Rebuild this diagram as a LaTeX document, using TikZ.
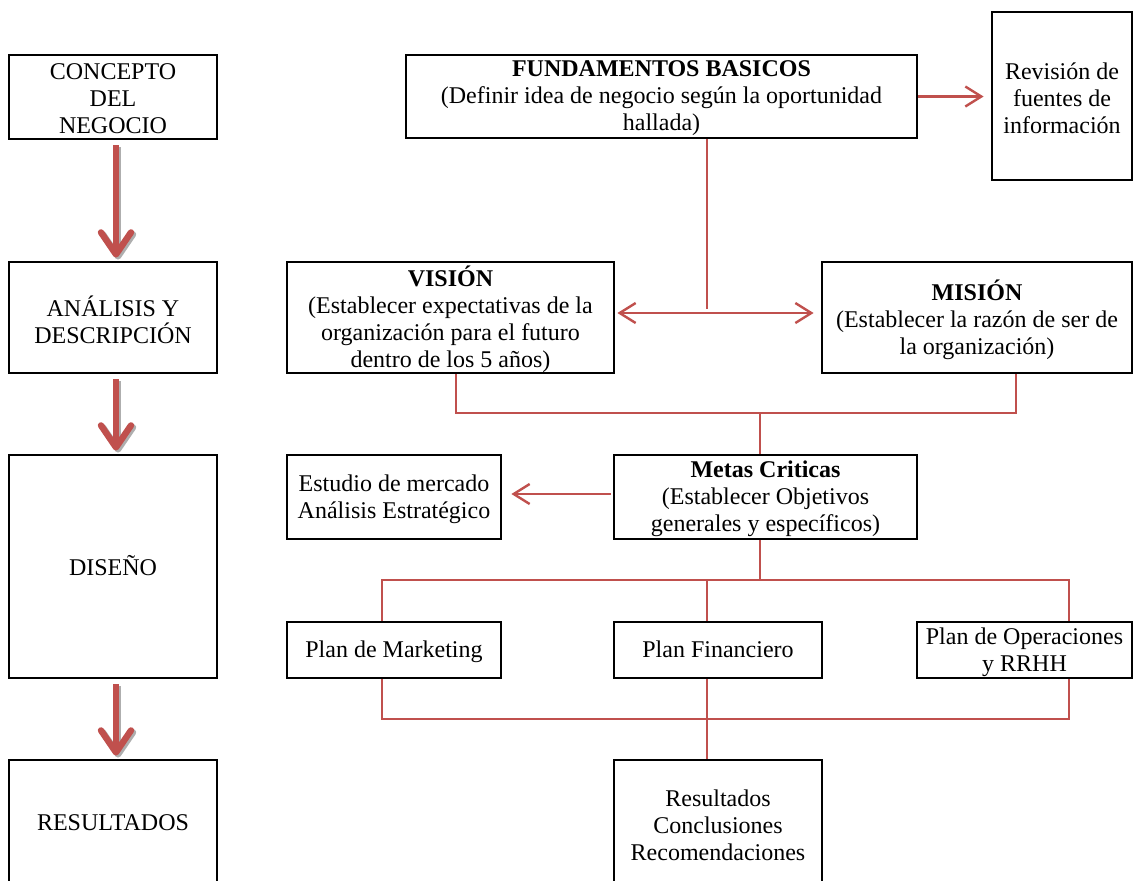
\documentclass[tikz,border=0pt]{standalone}
\usepackage{fontspec}
\setmainfont{Liberation Serif}
\usetikzlibrary{arrows.meta,fit,calc}
\definecolor{linkred}{HTML}{C0504D}
\definecolor{shade}{HTML}{9A9A9A}
\begin{document}
\begin{tikzpicture}[x=0.5pt,y=-0.5pt,
  box/.style={draw=black,line width=1.4pt,inner sep=0pt},
  txt/.style={inner sep=0pt,align=center,yshift=-1pt,font=\fontsize{12}{13.5}\selectfont},
  oneline/.style={txt,text depth=2.6pt},
  link/.style={draw=linkred,line width=1.2pt},
  linkarrow/.style={link,-{Straight Barb[length=8pt,width=10pt,line width=1.2pt]}},
  bothways/.style={link,{Straight Barb[length=8pt,width=10pt,line width=1.2pt]}-{Straight Barb[length=8pt,width=10pt,line width=1.2pt]}},
  bigarrow/.style={draw=linkred,line width=3.2pt,line join=round,
    -{Straight Barb[length=11pt,width=15pt,line width=3.2pt,round]}},
  bigshadow/.style={draw=shade,line width=3.2pt,line join=round,opacity=0.8,
    -{Straight Barb[length=11pt,width=15pt,line width=3.2pt,round]}}]
\useasboundingbox (0,0) rectangle (1135,880);

% left column: stages
\node[box,fit={(9,55)(217,139)}] (concept) {};
\node[box,fit={(9,262)(217,373)}] (analisis) {};
\node[box,fit={(9,455)(217,678)}] (diseno) {};
\node[box,fit={(9,760)(217,886)}] (resultados) {};
\node[txt] (concept-t) at (concept) {CONCEPTO\\DEL\\NEGOCIO};
\node[txt] (analisis-t) at (analisis) {ANÁLISIS Y\\DESCRIPCIÓN};
\node[oneline] (diseno-t) at (diseno) {DISEÑO};
\node[oneline] (resultados-t) at (resultados) {RESULTADOS};

% right side: content of each stage
\node[box,fit={(406,55)(917,138)}] (fund) {};
\node[box,fit={(992,12)(1132,180)}] (revision) {};
\node[box,fit={(287,262)(614,373)}] (vision) {};
\node[box,fit={(822,262)(1132,373)}] (mision) {};
\node[box,fit={(287,455)(501,539)}] (estudio) {};
\node[box,fit={(614,455)(917,539)}] (metas) {};
\node[box,fit={(287,622)(501,678)}] (mkt) {};
\node[box,fit={(614,622)(822,678)}] (fin) {};
\node[box,fit={(917,622)(1132,678)}] (ops) {};
\node[box,fit={(614,760)(822,886)}] (rcr) {};

\node[txt] (fund-t) at (fund) {\textbf{FUNDAMENTOS BASICOS}\\(Definir idea de negocio según la oportunidad\\hallada)};
\node[txt] (revision-t) at (revision) {Revisión de\\fuentes de\\información};
\node[txt] (vision-t) at (vision) {\textbf{VISIÓN}\\(Establecer expectativas de la\\organización para el futuro\\dentro de los 5 años)};
\node[txt] (mision-t) at (mision) {\textbf{MISIÓN}\\(Establecer la razón de ser de\\la organización)};
\node[txt] (estudio-t) at (estudio) {Estudio de mercado\\Análisis Estratégico};
\node[txt] (metas-t) at (metas) {\textbf{Metas Criticas}\\(Establecer Objetivos\\generales y específicos)};
\node[oneline] (mkt-t) at (mkt) {Plan de Marketing};
\node[oneline] (fin-t) at (fin) {Plan Financiero};
\node[txt] (ops-t) at (ops) {Plan de Operaciones\\y RRHH};
\node[txt] (rcr-t) at (rcr) {Resultados\\Conclusiones\\Recomendaciones};

% stage arrows with drop shadow
\foreach \a/\b in {concept/analisis,analisis/diseno,diseno/resultados}{
  \draw[bigshadow] ([xshift=2.5pt,yshift=-3.5pt]\a.south) -- ([xshift=2.5pt,yshift=0.5pt]\b.north);
  \draw[bigarrow] ([xshift=1.5pt,yshift=-2.5pt]\a.south) -- ([xshift=1.5pt,yshift=1.5pt]\b.north);
}

% fundamentals
\draw[linkarrow] (fund.east) -- ($(revision.west |- fund.east)+(-7,0)$);
\coordinate (j1) at (707,309);
\draw[link] (fund.south -| j1) -- (j1);
\draw[bothways] ($(vision.east)+(2,-4.5)$) -- ($(mision.west)+(-7,-4.5)$);

% vision and mission feed the critical goals
\coordinate (b1) at (456,413);
\coordinate (b2) at (1016,413);
\coordinate (b3) at (760,413);
\draw[link] (vision.south -| b1) -- (b1) -- (b2) -- (mision.south -| b2);
\draw[link] (b3) -- (metas.north -| b3);
\draw[linkarrow] ($(metas.west)+(-2,-3)$) -- ($(estudio.east)+(9,-3)$);

% plans
\coordinate (c0) at (760,580);
\coordinate (c1) at (382,580);
\coordinate (c2) at (707,580);
\coordinate (c3) at (1069,580);
\draw[link] (metas.south -| c0) -- (c0);
\draw[link] (mkt.north -| c1) -- (c1) -- (c3) -- (ops.north -| c3);
\draw[link] (c2) -- (fin.north -| c2);

% results
\coordinate (d1) at (382,719);
\coordinate (d2) at (707,719);
\coordinate (d3) at (1069,719);
\draw[link] (mkt.south -| d1) -- (d1) -- (d3) -- (ops.south -| d3);
\draw[link] (fin.south -| d2) -- (rcr.north -| d2);
\end{tikzpicture}
\end{document}
